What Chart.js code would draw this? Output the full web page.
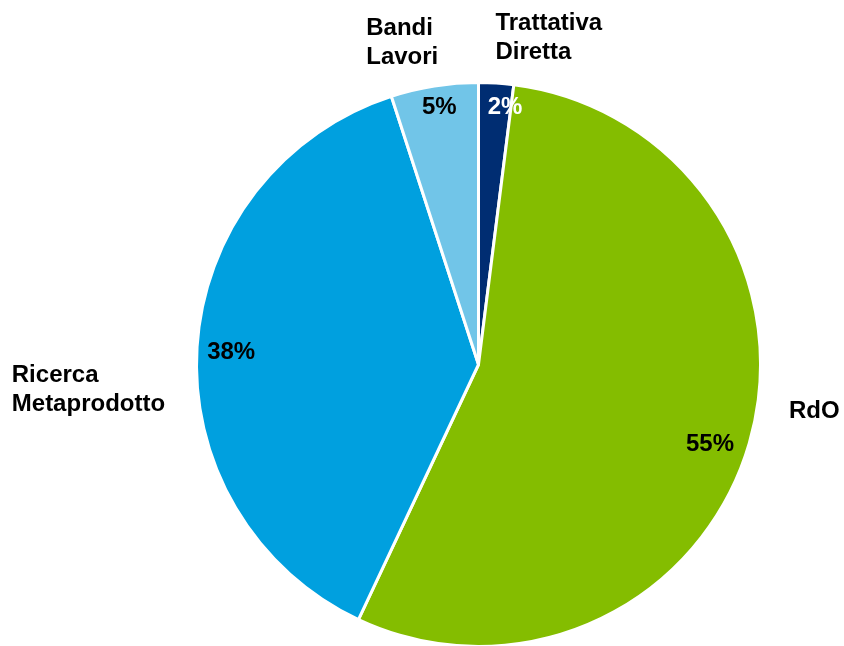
<!DOCTYPE html>
<html>
<head>
<meta charset="utf-8">
<script src="https://cdn.jsdelivr.net/npm/chart.js@4/dist/chart.umd.min.js"></script>
<style>
  html, body { margin: 0; padding: 0; background: #fff; overflow: hidden; }
  #wrap { width: 844px; height: 648px; position: relative; }
</style>
</head>
<body>
<div id="wrap"><canvas id="chart"></canvas></div>
<script>
// data
const categories = ["Trattativa\nDiretta", "RdO", "Ricerca\nMetaprodotto", "Bandi\nLavori"];
const shares = [2, 55, 38, 5];
const sliceColors = ["#002D72", "#84BD00", "#00A0DF", "#71C5E8"];
const pctColors = ["#ffffff", "#000000", "#000000", "#000000"];

// label placement, in units of the pie radius, relative to its centre
const pctPos = [[0.094, -0.911], [0.821, 0.282], [-0.877, -0.044], [-0.139, -0.911]];
const namePos = [[0.060, -1.160], [1.101, 0.165], [-1.655, 0.091], [-0.398, -1.142]];

const FONT = "bold 24px 'Liberation Sans', Arial, sans-serif";
const LINE_H = 29;

const labelPlugin = {
  id: "pieLabels",
  afterDatasetsDraw(chart) {
    const ctx = chart.ctx;
    const arcs = chart.getDatasetMeta(0).data;
    ctx.save();
    ctx.font = FONT;
    arcs.forEach((arc, i) => {
      const { x, y, outerRadius } = arc.getProps(["x", "y", "outerRadius"], true);
      // percentage inside the slice
      ctx.fillStyle = pctColors[i];
      ctx.textAlign = "center";
      ctx.textBaseline = "middle";
      ctx.fillText(shares[i] + "%", x + pctPos[i][0] * outerRadius, y + pctPos[i][1] * outerRadius);
      // category name outside
      const lines = categories[i].split("\n");
      const lx = x + namePos[i][0] * outerRadius;
      const cy = y + namePos[i][1] * outerRadius;
      const top = cy - (lines.length - 1) * LINE_H / 2;
      ctx.fillStyle = "#000000";
      ctx.textAlign = "left";
      lines.forEach((ln, k) => ctx.fillText(ln, lx, top + k * LINE_H));
    });
    ctx.restore();
  }
};

new Chart(document.getElementById("chart"), {
  type: "pie",
  data: {
    labels: categories,
    datasets: [{
      data: shares,
      backgroundColor: sliceColors,
      borderColor: "#ffffff",
      borderWidth: 3,
      hoverOffset: 0
    }]
  },
  options: {
    responsive: true,
    maintainAspectRatio: false,
    animation: false,
    layout: { padding: { left: 195, right: 82, top: 81, bottom: 0 } },
    plugins: {
      legend: { display: false },
      tooltip: { enabled: false }
    }
  },
  plugins: [labelPlugin]
});
</script>
</body>
</html>
